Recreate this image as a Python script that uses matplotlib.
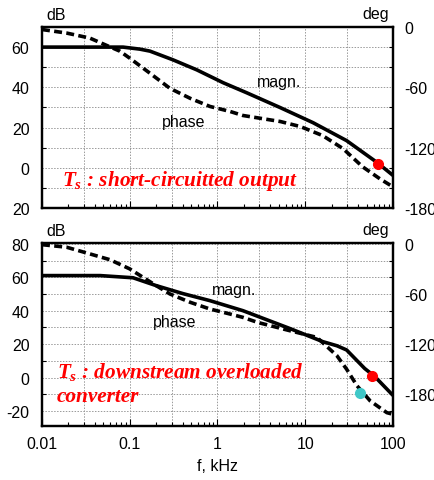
import numpy as np
import matplotlib; matplotlib.use("Agg")
import matplotlib.pyplot as plt
from matplotlib.ticker import NullFormatter, LogLocator, MultipleLocator

plt.rcParams["font.family"] = ["Liberation Sans", "DejaVu Sans"]
plt.rcParams["axes.unicode_minus"] = False
plt.rcParams["mathtext.fontset"] = "custom"
plt.rcParams["mathtext.it"] = "Liberation Serif:bold:italic"
plt.rcParams["mathtext.rm"] = "Liberation Serif:bold:italic"

# --- top panel: short-circuited output -------------------------------------
f_mag_a = [0.01, 0.05, 0.084, 0.13, 0.17, 0.31, 0.58, 1.16, 2.15, 5.2, 12.3,
           29.6, 66, 100]
db_mag_a = [60, 60, 60, 59, 58, 53.7, 48.7, 42.3, 37.3, 29.9, 22.4,
            13.5, 2.6, -3.8]
f_ph_a = [0.01, 0.019, 0.035, 0.077, 0.1, 0.17, 0.287, 0.49, 0.82, 1.39,
          1.95, 5.2, 8.8, 15.8, 27, 45, 71, 100]
deg_ph_a = [-2.5, -6, -11, -24, -31, -46, -61, -71, -79, -84,
            -88, -94, -99, -108, -121, -139, -151, -159]
red_a = (67, 2.0)

# --- bottom panel: downstream overloaded converter -------------------------
f_mag_b = [0.01, 0.046, 0.109, 0.2, 0.405, 0.82, 1.95, 6.7, 15.8, 23, 29.6,
           47.6, 62, 100]
db_mag_b = [61, 61, 59.7, 55, 50.2, 46, 40, 29.3, 21.5, 19.0, 16.5,
            5.4, 0.6, -10.7]
f_ph_b = [0.01, 0.019, 0.035, 0.0595, 0.1, 0.2, 0.287, 0.49, 0.82, 1.39,
          1.95, 2.86, 6.7, 13.6, 23, 29.6, 39, 55, 85, 100]
deg_ph_b = [-1, -4, -12, -19, -30, -50, -60, -70, -78, -84,
            -88, -94, -104, -112, -134, -150, -170, -188, -202, -204]
red_b = (57, 1.2)
cyan_b = (42, -178)

xgrid = [0.03, 0.1, 0.3, 1, 3, 10, 30]
xticks = [0.01, 0.1, 1, 10, 100]
xticklabels = ["0.01", "0.1", "1", "10", "100"]

fig = plt.figure(figsize=(4.35, 4.81), dpi=100)


def panel(rect, ylim, yticks, ylabels, deglim, fm, dm, fp, dp, show_x):
    ax = fig.add_axes(rect)
    ax.set_xscale("log")
    ax.set_xlim(0.01, 100)
    ax.set_ylim(*ylim)
    for xg in xgrid:
        ax.axvline(xg, color="#9a9a9a", ls=(0, (1.5, 1.5)), lw=0.7, zorder=0)
    for yg in np.arange(-30, 90, 10):
        ax.axhline(yg, color="#9a9a9a", ls=(0, (1.5, 1.5)), lw=0.7, zorder=0)
    ax.plot(fm, dm, color="k", lw=2.6, solid_capstyle="butt", zorder=3)
    ax.set_yticks(yticks)
    ax.set_yticklabels(ylabels)
    ax.yaxis.set_minor_locator(MultipleLocator(10))
    ax.tick_params(axis="y", which="major", length=0, pad=9, labelsize=11.5)
    ax.tick_params(axis="y", which="minor", direction="in", length=3, width=0.8)
    ax.set_xticks(xticks)
    ax.xaxis.set_minor_locator(LogLocator(base=10, subs=np.arange(2, 10), numticks=20))
    ax.xaxis.set_minor_formatter(NullFormatter())
    ax.tick_params(axis="x", which="both", direction="in", width=0.8)
    ax.tick_params(axis="x", which="major", length=5, pad=7, labelsize=11.5)
    ax.tick_params(axis="x", which="minor", length=3)
    ax.set_xticklabels(xticklabels if show_x else [])
    for s in ax.spines.values():
        s.set_linewidth(1.6)
    ax2 = ax.twinx()
    ax2.set_ylim(*deglim)
    ax2.plot(fp, dp, color="k", lw=2.6, ls=(0, (2.2, 1.2)), zorder=3)
    ax2.set_yticks([-180, -120, -60, 0])
    ax2.yaxis.set_minor_locator(MultipleLocator(20))
    ax2.tick_params(axis="y", which="major", length=0, pad=8, labelsize=11.5)
    ax2.tick_params(axis="y", which="minor", direction="in", length=3, width=0.8)
    for s in ax2.spines.values():
        s.set_linewidth(1.6)
    return ax, ax2


red_style = dict(color="#ff0000", fontsize=15.3, family="Liberation Serif",
                 weight="bold", style="italic", va="center")

# top
ax, ax2 = panel([42 / 435, 1 - 209 / 481, 351 / 435, 181 / 481],
                (-20, 70), [-20, 0, 20, 40, 60], ["20", "0", "20", "40", "60"],
                (-180, 0), f_mag_a, db_mag_a, f_ph_a, deg_ph_a, False)
ax.plot(*red_a, "o", color="#ff0000", ms=7, zorder=5)
fig.text(257 / 435, 1 - 82 / 481, "magn.", fontsize=11.5, va="center")
fig.text(162 / 435, 1 - 123 / 481, "phase", fontsize=11.5, va="center")
fig.text(62 / 435, 1 - 181 / 481, r"$T_s$ : short-circuitted output", **red_style)
fig.text(56 / 435, 1 - 15 / 481, "dB", fontsize=11.5, ha="center", va="center")
fig.text(376 / 435, 1 - 14 / 481, "deg", fontsize=11.5, ha="center", va="center")

# bottom
bx, bx2 = panel([42 / 435, 1 - 427 / 481, 351 / 435, 183 / 481],
                (-29, 80.5), [-20, 0, 20, 40, 60, 80],
                ["-20", "0", "20", "40", "60", "80"],
                (-218, 1), f_mag_b, db_mag_b, f_ph_b, deg_ph_b, True)
bx.plot(*red_b, "o", color="#ff0000", ms=7, zorder=5)
bx2.plot(*cyan_b, "o", color="#40c8c8", ms=7, zorder=5)
fig.text(212 / 435, 1 - 290 / 481, "magn.", fontsize=11.5, va="center")
fig.text(153 / 435, 1 - 322 / 481, "phase", fontsize=11.5, va="center")
fig.text(57 / 435, 1 - 372 / 481, r"$T_s$ : downstream overloaded", **red_style)
fig.text(57 / 435, 1 - 397 / 481, "converter", **red_style)
fig.text(56 / 435, 1 - 232 / 481, "dB", fontsize=11.5, ha="center", va="center")
fig.text(376 / 435, 1 - 231 / 481, "deg", fontsize=11.5, ha="center", va="center")
fig.text(217 / 435, 1 - 467 / 481, "f, kHz", fontsize=11.5, ha="center", va="center")

fig.savefig("out.png", dpi=100)
